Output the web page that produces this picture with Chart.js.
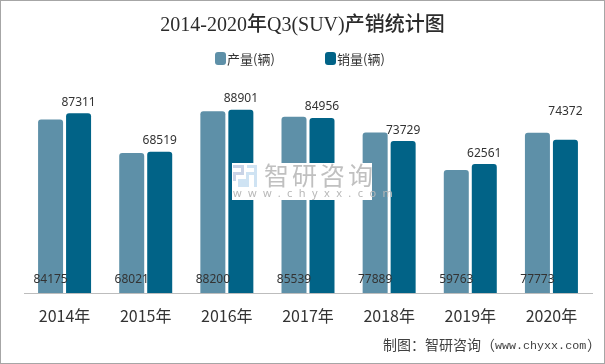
<!DOCTYPE html>
<html>
<head>
<meta charset="utf-8">
<script src="https://cdn.jsdelivr.net/npm/chart.js@4"></script>
<style>
  html, body { margin: 0; padding: 0; background: #fff; }
  #wrap { position: relative; width: 605px; height: 364px; overflow: hidden; }
  #wrap canvas { display: block; }
  #frame { position: absolute; left: 0; top: 0; right: 0; bottom: 0; border: 1px solid #a6a6a6; pointer-events: none; }
</style>
</head>
<body>
<div id="wrap">
  <canvas id="chart" width="605" height="364"></canvas>
  <div id="frame"></div>
</div>
<script>
const categories = ['2014年', '2015年', '2016年', '2017年', '2018年', '2019年', '2020年'];
const productionValues = [84175, 68021, 88200, 85539, 77889, 59763, 77773];
const salesValues = [87311, 68519, 88901, 84956, 73729, 62561, 74372];
const seriesNames = ['产量(辆)', '销量(辆)'];
const seriesColors = ['#5e90a8', '#016387'];

const CJK = '"Noto Sans CJK SC", "Noto Sans", sans-serif';
const TEXT = '#333333';

// labels of the first series sit at the foot of the bars, the last 2020 label floats higher
const barLabels = {
    id: 'barLabels',
    afterDatasetsDraw(chart) {
        const { ctx } = chart;
        ctx.save();
        ctx.font = '12px "Noto Sans", sans-serif';
        ctx.fillStyle = TEXT;
        ctx.textAlign = 'center';
        ctx.textBaseline = 'middle';
        chart.getDatasetMeta(0).data.forEach((bar, i) => {
            ctx.fillText(productionValues[i], bar.x, bar.base - 13);
        });
        chart.getDatasetMeta(1).data.forEach((bar, i) => {
            const lift = i === 6 ? 28 : 11;
            ctx.fillText(salesValues[i], bar.x, bar.y - lift);
        });
        ctx.restore();
    }
};

// legend boxes hug their text here, closer than the built-in legend allows
const tightLegend = {
    id: 'tightLegend',
    afterDraw(chart) {
        const { ctx } = chart;
        const starts = [215, 325];
        ctx.save();
        ctx.font = '13px ' + CJK;
        ctx.textBaseline = 'middle';
        seriesNames.forEach((name, i) => {
            ctx.fillStyle = seriesColors[i];
            ctx.beginPath();
            ctx.roundRect(starts[i], 52, 11, 13, 3);
            ctx.fill();
            ctx.fillStyle = TEXT;
            ctx.fillText(name, starts[i] + 12, 59);
        });
        ctx.restore();
    }
};

const watermark = {
    id: 'watermark',
    afterDraw(chart) {
        const { ctx } = chart;
        ctx.save();
        ctx.fillStyle = '#ffffff';
        ctx.fillRect(232, 163, 140, 37);

        // logo
        ctx.fillStyle = '#c9d3e6';
        ctx.fillRect(233, 165, 11, 3);
        ctx.fillRect(241, 165, 3, 10);
        ctx.fillRect(233, 172, 9, 3);
        ctx.fillRect(233, 172, 3, 9);
        ctx.fillStyle = '#cfe3f3';
        ctx.fillRect(247, 165, 10, 3);
        ctx.fillRect(254, 165, 3, 22);
        ctx.fillRect(247, 172, 8, 3);
        ctx.fillRect(246, 172, 3, 10);
        ctx.fillRect(238, 179, 11, 8);

        ctx.fillStyle = '#c0c0c0';
        ctx.font = '25px ' + CJK;
        ctx.letterSpacing = '3px';
        ctx.textBaseline = 'middle';
        ctx.fillText('智研咨询', 264, 175);

        ctx.fillStyle = '#b8b8b8';
        ctx.font = '11px "Noto Sans", sans-serif';
        ctx.letterSpacing = '6.4px';
        ctx.fillText('www.chyxx.com', 233, 194);
        ctx.restore();
    }
};

const sourceNote = {
    id: 'sourceNote',
    afterDraw(chart) {
        const { ctx } = chart;
        ctx.save();
        ctx.fillStyle = '#404040';
        ctx.textBaseline = 'middle';
        ctx.font = '14px ' + CJK;
        ctx.fillText('制图：智研咨询（', 383, 345);
        ctx.fillText('）', 587, 345);
        ctx.font = '11.7px "Liberation Mono", monospace';
        ctx.fillText('www.chyxx.com', 495, 346);
        ctx.restore();
    }
};

new Chart(document.getElementById('chart'), {
    type: 'bar',
    data: {
        labels: categories,
        datasets: [
            {
                label: seriesNames[0],
                data: productionValues,
                backgroundColor: seriesColors[0],
                borderRadius: { topLeft: 3, topRight: 3 },
                categoryPercentage: 0.69,
                barPercentage: 0.893
            },
            {
                label: seriesNames[1],
                data: salesValues,
                backgroundColor: seriesColors[1],
                borderRadius: { topLeft: 3, topRight: 3 },
                categoryPercentage: 0.69,
                barPercentage: 0.893
            }
        ]
    },
    options: {
        responsive: false,
        animation: false,
        layout: { padding: 0 },
        plugins: {
            legend: { display: false },
            tooltip: { enabled: false },
            title: {
                display: true,
                text: '2014-2020年Q3(SUV)产销统计图',
                color: '#2b2b2b',
                font: { family: '"Liberation Serif", ' + CJK, size: 20, weight: '500' },
                padding: { top: 14, bottom: 49 }
            }
        },
        scales: {
            x: {
                grid: { display: false, drawTicks: false },
                border: { color: '#bdbdbd', dash: [1, 1] },
                ticks: {
                    color: TEXT,
                    font: { family: CJK, size: 16 },
                    padding: 13,
                    maxRotation: 0,
                    autoSkip: false
                },
                afterFit(scale) { scale.height = 71; }
            },
            y: {
                min: 0,
                max: 100000,
                grid: { display: false },
                border: { display: false },
                ticks: { display: false },
                afterFit(scale) { scale.width = 24; }
            },
            // empty right axis keeps the plot off the right edge while the title stays centred
            yRight: {
                position: 'right',
                grid: { display: false },
                border: { display: false },
                ticks: { display: false },
                afterFit(scale) { scale.width = 13; }
            }
        }
    },
    plugins: [barLabels, tightLegend, watermark, sourceNote]
});
</script>
</body>
</html>
